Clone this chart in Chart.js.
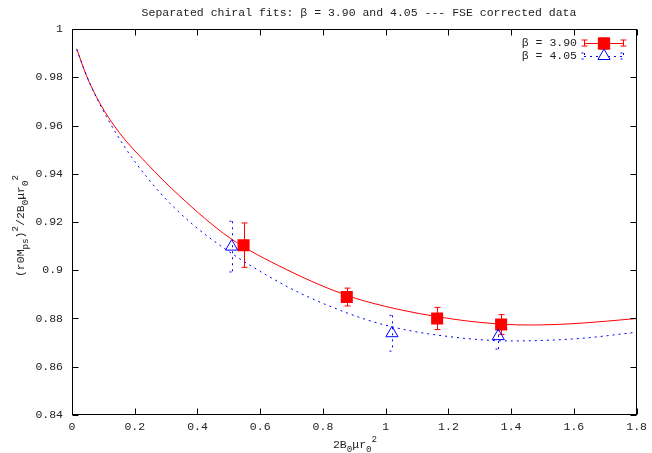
<!DOCTYPE html>
<html>
<head>
<meta charset="utf-8">
<script src="https://cdn.jsdelivr.net/npm/chart.js"></script>
<style>
  body { margin: 0; background: #fff; }
  canvas { display: block; }
</style>
</head>
<body>
<canvas id="chart" width="652" height="453"></canvas>
<script>
// beta = 3.90 measurements with errors
const b390X = [0.547, 0.876, 1.164, 1.368];
const b390Y = [0.9104, 0.8889, 0.8800, 0.8775];
const b390Err = [0.0092, 0.0037, 0.0046, 0.0041];

// beta = 4.05 measurements with errors
const b405X = [0.509, 1.020, 1.359];
const b405Y = [0.9098, 0.8739, 0.8727];
const b405Err = [0.0105, 0.0074, 0.0054];

// separate chiral fit curves
const fit390X = [0.015, 0.045, 0.088, 0.151, 0.236, 0.343, 0.502, 0.682, 0.873, 1.0, 1.149, 1.3, 1.457, 1.616, 1.8];
const fit390Y = [0.9918, 0.981, 0.9694, 0.957, 0.9446, 0.9308, 0.9135, 0.9004, 0.8897, 0.885, 0.8811, 0.8784, 0.8773, 0.878, 0.880];
const fit405X = [0.015, 0.056, 0.109, 0.173, 0.236, 0.321, 0.438, 0.682, 0.873, 1.0, 1.16, 1.404, 1.616, 1.8];
const fit405Y = [0.9915, 0.9777, 0.9639, 0.9501, 0.939, 0.9266, 0.9135, 0.8935, 0.8825, 0.8772, 0.8732, 0.8707, 0.8717, 0.8743];

const xTicks = [0, 0.2, 0.4, 0.6, 0.8, 1, 1.2, 1.4, 1.6, 1.8];
const yTicks = [0.84, 0.86, 0.88, 0.9, 0.92, 0.94, 0.96, 0.98, 1];

const titleText = 'Separated chiral fits: \u03b2 = 3.90 and 4.05 --- FSE corrected data';
const legendLabels = ['\u03b2 = 3.90', '\u03b2 = 4.05'];

const FONT = '"Liberation Mono", "DejaVu Sans Mono", monospace';
const FSIZE = 11.5;
const RED = '#ff0000';
const BLUE = '#0000ff';
const DOTS = [2, 4];

function toPoints(xs, ys) {
    return xs.map((x, i) => ({x: x, y: ys[i]}));
}

function fmtTick(v) {
    return String(+v.toFixed(2));
}

/**
 * Draws text made of normal, sub (-1) and super (+1) script pieces,
 * centred on x.
 */
function drawRich(ctx, parts, x, y, size) {
    const small = size * 0.8;
    let w = 0;
    parts.forEach(([t, s]) => {
        ctx.font = (s ? small : size) + 'px ' + FONT;
        w += ctx.measureText(t).width;
    });
    let cx = x - w / 2;
    ctx.textAlign = 'left';
    ctx.textBaseline = 'middle';
    parts.forEach(([t, s]) => {
        ctx.font = (s ? small : size) + 'px ' + FONT;
        let dy = s > 0 ? -size * 0.5 : (s < 0 ? size * 0.4 : 0);
        ctx.fillText(t, cx, y + dy);
        cx += ctx.measureText(t).width;
    });
}

function errorBar(ctx, px, top, bottom, color, dashed) {
    ctx.save();
    ctx.strokeStyle = color;
    ctx.lineWidth = 1;
    ctx.setLineDash(dashed ? DOTS : []);
    ctx.beginPath();
    ctx.moveTo(px, top);
    ctx.lineTo(px, bottom);
    ctx.moveTo(px - 3, top);
    ctx.lineTo(px + 3, top);
    ctx.moveTo(px - 3, bottom);
    ctx.lineTo(px + 3, bottom);
    ctx.stroke();
    ctx.restore();
}

const decor = {
    id: 'decor',
    beforeDatasetsDraw(chart) {
        const ctx = chart.ctx;
        const xs = chart.scales.x, ys = chart.scales.y;
        b390X.forEach((x, i) => {
            errorBar(ctx, Math.round(xs.getPixelForValue(x)) + 0.5,
                ys.getPixelForValue(b390Y[i] + b390Err[i]),
                ys.getPixelForValue(b390Y[i] - b390Err[i]), RED, false);
        });
        b405X.forEach((x, i) => {
            errorBar(ctx, Math.round(xs.getPixelForValue(x)) + 0.5,
                ys.getPixelForValue(b405Y[i] + b405Err[i]),
                ys.getPixelForValue(b405Y[i] - b405Err[i]), BLUE, true);
        });
    },
    afterDraw(chart) {
        const ctx = chart.ctx;
        const a = chart.chartArea;
        const xs = chart.scales.x, ys = chart.scales.y;
        const l = Math.round(a.left) + 0.5, r = Math.round(a.right) - 0.5;
        const t = Math.round(a.top) + 0.5, b = Math.round(a.bottom) - 0.5;

        // frame with inward ticks on all sides
        ctx.save();
        ctx.strokeStyle = '#000';
        ctx.lineWidth = 1;
        ctx.strokeRect(l, t, r - l, b - t);
        ctx.beginPath();
        xTicks.forEach(v => {
            const px = Math.round(xs.getPixelForValue(v)) + 0.5;
            ctx.moveTo(px, b); ctx.lineTo(px, b - 6);
            ctx.moveTo(px, t); ctx.lineTo(px, t + 6);
        });
        yTicks.forEach(v => {
            const py = Math.round(ys.getPixelForValue(v)) + 0.5;
            ctx.moveTo(l, py); ctx.lineTo(l + 6, py);
            ctx.moveTo(r, py); ctx.lineTo(r - 6, py);
        });
        ctx.stroke();

        ctx.fillStyle = '#222';

        // title
        ctx.font = FSIZE + 'px ' + FONT;
        ctx.textAlign = 'center';
        ctx.textBaseline = 'middle';
        ctx.fillText(titleText, 359, 13);

        // legend
        ctx.textAlign = 'right';
        ctx.fillText(legendLabels[0], 577, 43);
        ctx.fillText(legendLabels[1], 577, 56);
        errorBar(ctx, 584.5, 40, 46, RED, false);
        errorBar(ctx, 623.5, 40, 46, RED, false);
        ctx.strokeStyle = RED;
        ctx.beginPath();
        ctx.moveTo(584, 43.5); ctx.lineTo(624, 43.5);
        ctx.stroke();
        Chart.helpers.drawPoint(ctx, {pointStyle: 'rect', radius: 8, borderWidth: 1}, 604, 43.5);
        ctx.fillStyle = RED;
        ctx.fill();
        errorBar(ctx, 584.5, 53, 59, BLUE, true);
        errorBar(ctx, 623.5, 53, 59, BLUE, true);
        ctx.strokeStyle = BLUE;
        ctx.setLineDash(DOTS);
        ctx.beginPath();
        ctx.moveTo(584, 56.5); ctx.lineTo(624, 56.5);
        ctx.stroke();
        ctx.setLineDash([]);
        ctx.fillStyle = '#fff';
        Chart.helpers.drawPoint(ctx, {pointStyle: 'triangle', radius: 7, borderWidth: 1}, 604, 56);

        // axis titles
        ctx.fillStyle = '#222';
        drawRich(ctx, [['2B', 0], ['0', -1], ['\u03bcr', 0], ['0', -1], ['2', 1]], 355, 445, FSIZE);
        ctx.translate(21, 226);
        ctx.rotate(-Math.PI / 2);
        drawRich(ctx, [['(r0M', 0], ['ps', -1], [')', 0], ['2', 1], ['/2B', 0], ['0', -1],
            ['\u03bcr', 0], ['0', -1], ['2', 1]], 0, 0, FSIZE);
        ctx.restore();
    }
};

new Chart(document.getElementById('chart'), {
    type: 'scatter',
    data: {
        datasets: [
            {
                label: legendLabels[1],
                data: toPoints(b405X, b405Y),
                pointStyle: 'triangle',
                pointRadius: 7,
                borderColor: BLUE,
                backgroundColor: 'rgba(0,0,0,0)',
                borderWidth: 1,
                order: 1
            },
            {
                label: legendLabels[0],
                data: toPoints(b390X, b390Y),
                pointStyle: 'rect',
                pointRadius: 8.5,
                borderColor: RED,
                backgroundColor: RED,
                borderWidth: 0,
                order: 2
            },
            {
                type: 'line',
                data: toPoints(fit405X, fit405Y),
                borderColor: BLUE,
                borderWidth: 1,
                borderDash: DOTS,
                pointRadius: 0,
                cubicInterpolationMode: 'monotone',
                fill: false,
                order: 0
            },
            {
                type: 'line',
                data: toPoints(fit390X, fit390Y),
                borderColor: RED,
                borderWidth: 1,
                pointRadius: 0,
                cubicInterpolationMode: 'monotone',
                fill: false,
                order: 0
            }
        ]
    },
    options: {
        responsive: false,
        animation: false,
        layout: {padding: {top: 29, right: 14, left: 0, bottom: 0}},
        plugins: {legend: {display: false}, tooltip: {enabled: false}},
        scales: {
            x: {
                type: 'linear', min: 0, max: 1.8,
                grid: {display: false, drawTicks: false},
                border: {display: false},
                afterBuildTicks: s => { s.ticks = xTicks.map(v => ({value: v})); },
                afterFit: s => { s.height = 38; },
                ticks: {callback: fmtTick, autoSkip: false, maxRotation: 0, padding: 5,
                        color: '#222', font: {family: FONT, size: FSIZE}}
            },
            y: {
                type: 'linear', min: 0.84, max: 1,
                grid: {display: false, drawTicks: false},
                border: {display: false},
                afterBuildTicks: s => { s.ticks = yTicks.map(v => ({value: v})); },
                afterFit: s => { s.width = 72; },
                ticks: {callback: fmtTick, autoSkip: false, padding: 9,
                        color: '#222', font: {family: FONT, size: FSIZE}}
            }
        }
    },
    plugins: [decor]
});
</script>
</body>
</html>
